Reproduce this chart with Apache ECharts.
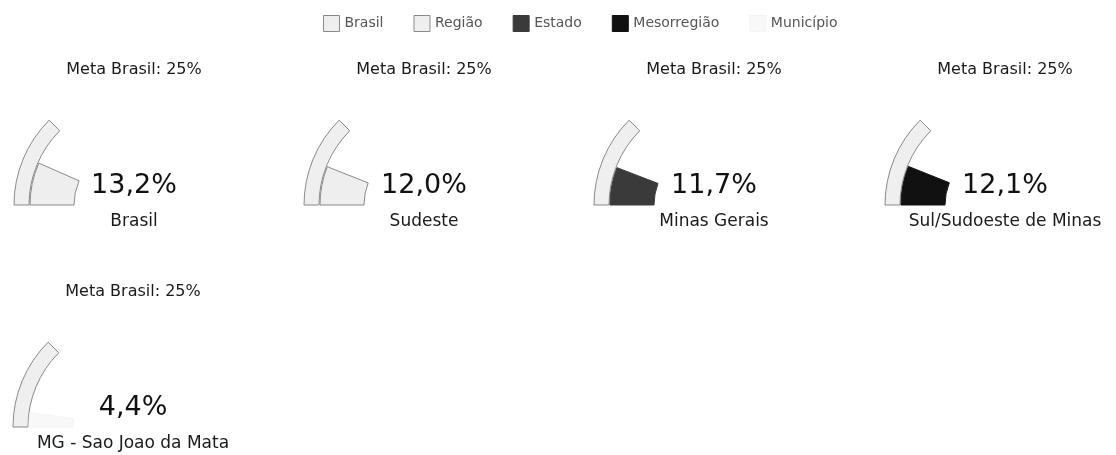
<!DOCTYPE html>
<html><head><meta charset="utf-8">
<script src="https://cdn.jsdelivr.net/npm/echarts@6/dist/echarts.min.js"></script>
<style>html,body{margin:0;padding:0;background:#fff}#c{width:1116px;height:455px}</style>
</head><body><div id="c"></div>
<script>
// ---- data ----
const legendNames = ['Brasil', 'Região', 'Estado', 'Mesorregião', 'Município'];
const panelTitles = ['Brasil', 'Sudeste', 'Minas Gerais', 'Sul/Sudoeste de Minas', 'MG - Sao Joao da Mata'];
const panelValues = [13.2, 12.0, 11.7, 12.1, 4.4];
const metaValue = 25;
const metaLabel = 'Meta Brasil: 25%';
const gaugeMin = 0;
const gaugeMax = 100;

// ---- styles / layout ----
const fillColors = ['#eeeeee', '#eeeeee', '#3a3a3a', '#111111', '#f8f8f8'];
const borderColors = ['#8a8a8a', '#8a8a8a', '#3a3a3a', '#111111', '#f4f4f4'];
const centers = [[134, 205], [424, 205], [714, 205], [1005, 205], [133, 427]];
const FONT = 'DejaVu Sans';

const fmt = v => v.toFixed(1).replace('.', ',') + '%';

const hidden = {
  axisLine: { show: false },
  axisTick: { show: false },
  splitLine: { show: false },
  axisLabel: { show: false },
  pointer: { show: false },
  anchor: { show: false }
};

const series = [];
panelValues.forEach((v, i) => {
  // meta band
  series.push(Object.assign({
    type: 'gauge', name: 'meta' + i, silent: true,
    center: centers[i], radius: 120,
    startAngle: 180, endAngle: 0, min: gaugeMin, max: gaugeMax,
    progress: { show: true, width: 15,
      itemStyle: { color: '#efefef', borderColor: '#8a8a8a', borderWidth: 1 } },
    title: { show: true, offsetCenter: [0, -135], fontSize: 16, color: '#1a1a1a',
      fontWeight: 'normal', fontFamily: FONT },
    detail: { show: false },
    data: [{ value: metaValue, name: metaLabel }]
  }, hidden));
  // value wedge
  series.push(Object.assign({
    type: 'gauge', name: legendNames[i], silent: true,
    center: centers[i], radius: 104,
    startAngle: 180, endAngle: 0, min: gaugeMin, max: gaugeMax,
    itemStyle: { color: fillColors[i], borderColor: borderColors[i], borderWidth: 1 },
    progress: { show: true, width: 44,
      itemStyle: { color: fillColors[i], borderColor: borderColors[i], borderWidth: 1 } },
    title: { show: true, offsetCenter: [0, 17], fontSize: 17, color: '#1a1a1a',
      fontWeight: 'normal', fontFamily: FONT },
    detail: { show: true, offsetCenter: [0, -19], fontSize: 27, color: '#111',
      fontWeight: 'normal', fontFamily: FONT, formatter: fmt, valueAnimation: false },
    data: [{ value: v, name: panelTitles[i] }]
  }, hidden));
});

const chart = echarts.init(document.getElementById('c'), null, { renderer: 'canvas' });
chart.setOption({
  animation: false,
  backgroundColor: '#ffffff',
  legend: {
    left: 318, top: 10,
    icon: 'rect', itemWidth: 16, itemHeight: 16, itemGap: 30,
    textStyle: { fontSize: 14, color: '#555', fontFamily: FONT },
    data: legendNames.map((n, i) => ({
      name: n,
      itemStyle: { color: fillColors[i], borderColor: borderColors[i], borderWidth: 1 }
    }))
  },
  series: series
});
</script>
</body></html>
